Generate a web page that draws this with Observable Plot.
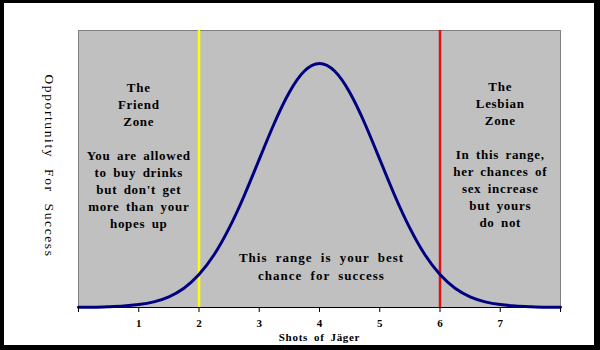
<!DOCTYPE html>
<html>
<head>
<meta charset="utf-8">
<script src="https://cdn.jsdelivr.net/npm/d3@7"></script>
<script src="https://cdn.jsdelivr.net/npm/@observablehq/plot@0.6"></script>
<style>
  html, body { margin: 0; padding: 0; background: #fff; }
  #wrap { position: relative; width: 600px; height: 350px; overflow: hidden; }
  #border { position: absolute; left: 0; top: 0; width: 600px; height: 350px; box-sizing: border-box;
            border-style: solid; border-color: #000; border-width: 3px 6px 5px 4px; pointer-events: none; }
</style>
</head>
<body>
<div id="wrap"><div id="chart"></div><div id="border"></div></div>
<script>
// Shots of Jäger (x) and opportunity for success (relative height, peak = 100)
const shots = [0, 0.25, 0.5, 0.75, 1, 1.25, 1.5, 1.75, 2, 2.25, 2.5, 2.75, 3, 3.25, 3.5, 3.75, 4,
               4.25, 4.5, 4.75, 5, 5.25, 5.5, 5.75, 6, 6.25, 6.5, 6.75, 7, 7.25, 7.5, 7.75, 8];
const opportunity = [0.1, 0.1, 0.3, 0.6, 1.2, 2.3, 4.4, 7.9, 13.5, 21.6, 32.5, 45.8, 60.7, 75.5, 88.2, 96.9, 100,
                     96.9, 88.2, 75.5, 60.7, 45.8, 32.5, 21.6, 13.5, 7.9, 4.4, 2.3, 1.2, 0.6, 0.3, 0.1, 0.1];
const xTicks = [0, 1, 2, 3, 4, 5, 6, 7, 8];
const xTickLabels = ["", "1", "2", "3", "4", "5", "6", "7", ""];
const friendLimit = [2];
const lesbianLimit = [6];
const friendText = ["The\nFriend\nZone\n\nYou are allowed\nto buy drinks\nbut don't get\nmore than your\nhopes up"];
const lesbianText = ["The\nLesbian\nZone\n\nIn this range,\nher chances of\nsex increase\nbut yours\ndo not"];
const middleText = ["This range is your best\nchance for success"];
const friendAt = [1], lesbianAt = [7], middleAt = [4];
const xLabel = "Shots of Jäger";
const yLabel = "Opportunity For Success";

const curve = shots.map((s, i) => ({shots: s, opportunity: opportunity[i]}));
const serif = "'Liberation Serif', 'Times New Roman', serif";

const chart = Plot.plot({
  width: 600,
  height: 350,
  marginLeft: 78,
  marginRight: 40,
  marginTop: 30,
  marginBottom: 43,
  style: {background: "transparent", fontFamily: serif, color: "#000"},
  x: {domain: [0, 8]},
  y: {domain: [0, 113.5]},
  marks: [
    Plot.frame({fill: "#c0c0c0", stroke: "#808080"}),
    Plot.ruleX(friendLimit, {stroke: "#ffff00", strokeWidth: 2.5}),
    Plot.ruleX(lesbianLimit, {stroke: "#dd1111", strokeWidth: 2.5}),
    Plot.line(curve, {x: "shots", y: "opportunity", stroke: "#000080", strokeWidth: 3, curve: "natural"}),
    Plot.ruleY([0], {stroke: "#000", strokeWidth: 1}),
    Plot.axisX({ticks: xTicks, tickFormat: d => xTickLabels[xTicks.indexOf(d)], tickSize: 5, tickPadding: 7,
                fontSize: 11, fontWeight: "bold", label: null, stroke: "#000"}),
    Plot.axisY({ticks: [], label: null, tickSize: 0}),
    Plot.text(friendText, {x: friendAt, frameAnchor: "top", lineAnchor: "top", dy: 49, text: d => d,
      fontSize: 13, fontWeight: "bold", lineHeight: 1.31, fill: "#000"}),
    Plot.text(lesbianText, {x: lesbianAt, frameAnchor: "top", lineAnchor: "top", dy: 48, text: d => d,
      fontSize: 13, fontWeight: "bold", lineHeight: 1.31, fill: "#000"}),
    Plot.text(middleText, {x: middleAt, frameAnchor: "top", lineAnchor: "top", dx: 2, dy: 219, text: d => d,
      fontSize: 13, fontWeight: "bold", lineHeight: 1.385, fill: "#000"}),
    Plot.text([xLabel], {frameAnchor: "bottom", lineAnchor: "middle", dy: 30, text: d => d,
      fontSize: 11, fontWeight: "bold", fill: "#000"}),
    Plot.text([yLabel], {frameAnchor: "left", textAnchor: "middle", lineAnchor: "middle", dx: -29, dy: -3, rotate: 90,
      text: d => d, fontSize: 13.5, fill: "#000"})
  ]
});

// spacing tweaks to mimic the wide-spaced original lettering
const texts = chart.querySelectorAll("g[aria-label='text'] text");
texts.forEach(t => {
  const s = t.textContent;
  if (s.startsWith("The")) { t.style.letterSpacing = "0.7px"; t.style.wordSpacing = "2.5px"; }
  else if (s.startsWith("This")) { t.style.letterSpacing = "1px"; t.style.wordSpacing = "4px"; }
  else if (s.startsWith("Shots")) { t.style.letterSpacing = "0.7px"; t.style.wordSpacing = "2.5px"; }
  else if (s.startsWith("Opportunity")) { t.style.letterSpacing = "1.6px"; t.style.wordSpacing = "6px"; }
});
document.getElementById("chart").appendChild(chart);
</script>
</body>
</html>
